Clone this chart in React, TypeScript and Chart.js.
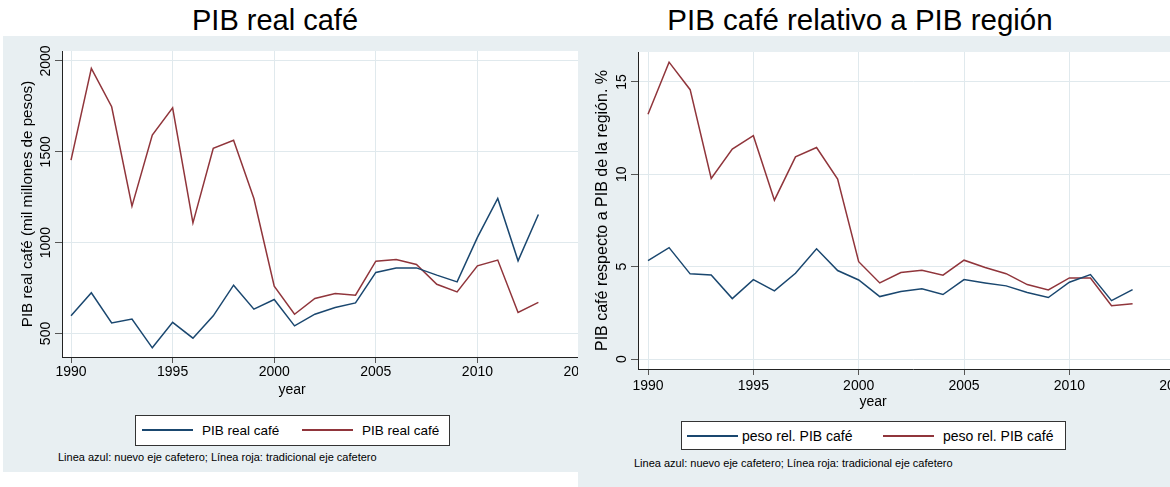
import React, { useEffect, useRef } from 'react';
import { Chart, registerables } from 'chart.js';

Chart.register(...registerables);

const FONT = "'Liberation Sans', Arial, Helvetica, sans-serif";

// ---------- data ----------
const years = [1990, 1991, 1992, 1993, 1994, 1995, 1996, 1997, 1998, 1999, 2000, 2001, 2002, 2003, 2004, 2005, 2006, 2007, 2008, 2009, 2010, 2011, 2012, 2013];

// PIB real café (mil millones de pesos)
const pibNuevo = [597, 724, 558, 579, 421, 561, 474, 597, 766, 634, 687, 542, 606, 643, 668, 836, 861, 861, 821, 784, 1029, 1243, 900, 1155];
const pibTradicional = [1454, 1959, 1748, 1201, 1592, 1742, 1109, 1519, 1564, 1243, 760, 606, 693, 720, 711, 898, 907, 880, 771, 729, 872, 904, 616, 671];

// peso relativo PIB café (%)
const pesoNuevo = [5.33, 6.03, 4.61, 4.55, 3.27, 4.30, 3.69, 4.64, 5.97, 4.79, 4.28, 3.38, 3.65, 3.80, 3.49, 4.30, 4.12, 3.96, 3.60, 3.33, 4.16, 4.57, 3.16, 3.76];
const pesoTradicional = [13.25, 16.07, 14.58, 9.77, 11.36, 12.09, 8.60, 10.94, 11.45, 9.74, 5.27, 4.12, 4.68, 4.80, 4.54, 5.35, 4.95, 4.62, 4.03, 3.74, 4.39, 4.39, 2.88, 2.99];

const xTicks = [1990, 1995, 2000, 2005, 2010, 2015];
const xTickLabels = ['1990', '1995', '2000', '2005', '2010', '2015'];
const yTicksPib = [500, 1000, 1500, 2000];
const yTickLabelsPib = ['500', '1000', '1500', '2000'];
const yTicksPeso = [0, 5, 10, 15];
const yTickLabelsPeso = ['0', '5', '10', '15'];

const titlePib = 'PIB real café';
const titlePeso = 'PIB café relativo a PIB región';
const yTitlePib = 'PIB real café (mil millones de pesos)';
const yTitlePeso = 'PIB café respecto a PIB de la región. %';
const xTitle = 'year';
const legendPib = ['PIB real café', 'PIB real café'];
const legendPeso = ['peso rel. PIB café', 'peso rel. PIB café'];
const note = 'Linea azul: nuevo eje cafetero; Línea roja: tradicional eje cafetero';

const BLUE = '#1a476f';
const RED = '#90353b';
const BG = '#e8eff2';
const GRID = '#e0e9ed';

// ---------- plugins ----------
const plotBg = {
  id: 'plotBg',
  beforeDraw(chart: any) {
    const { ctx, chartArea } = chart;
    ctx.save();
    ctx.fillStyle = '#ffffff';
    ctx.fillRect(chartArea.left, chartArea.top, chartArea.right - chartArea.left, chartArea.bottom - chartArea.top);
    ctx.restore();
  },
};

const rotatedYTicks = {
  id: 'rotatedYTicks',
  afterDraw(chart: any, _args: any, opts: any) {
    const scale = chart.scales.y;
    const ctx = chart.ctx;
    ctx.save();
    ctx.font = `${opts.size}px ${FONT}`;
    ctx.fillStyle = '#000';
    ctx.textAlign = 'center';
    ctx.textBaseline = 'alphabetic';
    scale.ticks.forEach((t: any, i: number) => {
      const y = scale.getPixelForValue(t.value);
      ctx.save();
      ctx.translate(chart.chartArea.left - opts.offset, y);
      ctx.rotate(-Math.PI / 2);
      ctx.fillText(opts.labels[i], 0, 0);
      ctx.restore();
    });
    ctx.restore();
  },
};

type Cfg = {
  width: number;
  height: number;
  padTop: number;
  padRight: number;
  yWidth: number;
  xMin: number;
  xMax: number;
  yMin: number;
  yMax: number;
  yTicks: number[];
  yTickLabels: string[];
  yTitle: string;
  yTitleSize: number;
  yTitlePad: number;
  blue: number[];
  red: number[];
  labels: string[];
  fontSize: number;
  tickLen: number;
  tickPad: number;
};

function LineChart({ cfg }: { cfg: Cfg }) {
  const ref = useRef<HTMLCanvasElement>(null);
  useEffect(() => {
    const chart = new Chart(ref.current as HTMLCanvasElement, {
      type: 'line',
      data: {
        datasets: [
          {
            label: cfg.labels[0],
            data: years.map((x, i) => ({ x, y: cfg.blue[i] })),
            borderColor: BLUE,
            borderWidth: 1.5,
            pointRadius: 0,
            tension: 0,
          },
          {
            label: cfg.labels[1],
            data: years.map((x, i) => ({ x, y: cfg.red[i] })),
            borderColor: RED,
            borderWidth: 1.5,
            pointRadius: 0,
            tension: 0,
          },
        ],
      },
      options: {
        animation: false,
        responsive: false,
        layout: { padding: { top: cfg.padTop, right: cfg.padRight, left: 0, bottom: 0 } },
        plugins: {
          legend: { display: false },
          tooltip: { enabled: false },
          title: { display: false },
          rotatedYTicks: { size: cfg.fontSize, offset: 12, labels: cfg.yTickLabels },
        } as any,
        scales: {
          x: {
            type: 'linear',
            min: cfg.xMin,
            max: cfg.xMax,
            afterBuildTicks: (s: any) => {
              s.ticks = xTicks.map((v) => ({ value: v }));
            },
            afterFit: (s: any) => {
              s.height = 40;
            },
            ticks: {
              font: { family: FONT, size: cfg.fontSize },
              color: '#000',
              padding: cfg.tickPad,
              maxRotation: 0,
              autoSkip: false,
              callback: (_v: any, i: number) => xTickLabels[i],
            },
            grid: { color: GRID, lineWidth: 1, tickLength: cfg.tickLen, tickColor: '#555', tickWidth: 1 },
            border: { display: true, color: '#222', width: 1 },
          },
          y: {
            type: 'linear',
            min: cfg.yMin,
            max: cfg.yMax,
            afterBuildTicks: (s: any) => {
              s.ticks = cfg.yTicks.map((v) => ({ value: v }));
            },
            afterFit: (s: any) => {
              s.width = cfg.yWidth;
            },
            ticks: { display: false },
            grid: { color: GRID, lineWidth: 1, tickLength: 7, tickColor: '#555', tickWidth: 1 },
            border: { display: true, color: '#222', width: 1 },
            title: {
              display: true,
              text: cfg.yTitle,
              color: '#000',
              font: { family: FONT, size: cfg.yTitleSize },
              padding: { top: cfg.yTitlePad, bottom: 0 },
            },
          },
        },
      },
      plugins: [plotBg, rotatedYTicks],
    } as any);
    return () => chart.destroy();
  }, []);
  return (
    <canvas
      ref={ref}
      width={cfg.width}
      height={cfg.height}
      style={{ position: 'absolute', left: 0, top: 0, width: cfg.width, height: cfg.height }}
    />
  );
}

function Legend({ left, top, width, height, labels, fs, items }: any) {
  return (
    <div
      style={{
        position: 'absolute',
        left,
        top,
        width,
        height,
        boxSizing: 'border-box',
        border: '1px solid #333',
        background: '#fff',
      }}
    >
      {[BLUE, RED].map((c, i) => (
        <React.Fragment key={i}>
          <div style={{ position: 'absolute', left: items[i][0], top: items[i][2] - 1, width: 51, height: 2, background: c }} />
          <div
            style={{
              position: 'absolute',
              left: items[i][1],
              top: items[i][3],
              fontSize: fs,
              lineHeight: fs + 'px',
              whiteSpace: 'nowrap',
              color: '#000',
            }}
          >
            {labels[i]}
          </div>
        </React.Fragment>
      ))}
    </div>
  );
}

function Text({ cx, left, top, fs, children }: any) {
  const style: any = {
    position: 'absolute',
    top,
    fontSize: fs,
    lineHeight: fs + 'px',
    whiteSpace: 'nowrap',
    color: '#000',
  };
  if (cx !== undefined) {
    style.left = cx - 300;
    style.width = 600;
    style.textAlign = 'center';
  } else {
    style.left = left;
  }
  return <div style={style}>{children}</div>;
}

const leftCfg: Cfg = {
  width: 640,
  height: 361,
  padTop: 15,
  padRight: 40,
  yWidth: 59,
  xMin: 1989.556,
  xMax: 2016.18,
  yMin: 370.5,
  yMax: 2055,
  yTicks: yTicksPib,
  yTickLabels: yTickLabelsPib,
  yTitle: yTitlePib,
  yTitleSize: 15.2,
  yTitlePad: 15.4,
  blue: pibNuevo,
  red: pibTradicional,
  labels: legendPib,
  fontSize: 14,
  tickLen: 6,
  tickPad: 1,
};

const rightCfg: Cfg = {
  width: 640,
  height: 373,
  padTop: 16,
  padRight: 30,
  yWidth: 60,
  xMin: 1989.525,
  xMax: 2015.63,
  yMin: -0.54,
  yMax: 16.62,
  yTicks: yTicksPeso,
  yTickLabels: yTickLabelsPeso,
  yTitle: yTitlePeso,
  yTitleSize: 16,
  yTitlePad: 15,
  blue: pesoNuevo,
  red: pesoTradicional,
  labels: legendPeso,
  fontSize: 14,
  tickLen: 6,
  tickPad: 2.4,
};

export default function App() {
  return (
    <div
      style={{
        position: 'absolute',
        left: 0,
        top: 0,
        width: 1170,
        height: 487,
        overflow: 'hidden',
        background: '#fff',
        fontFamily: FONT,
      }}
    >
      <Text cx={275} top={5.5} fs={29}>{titlePib}</Text>
      <Text cx={860} top={5} fs={29.5}>{titlePeso}</Text>

      <div style={{ position: 'absolute', left: 3, top: 36, width: 575, height: 436, background: BG, overflow: 'hidden' }}>
        <LineChart cfg={leftCfg} />
      </div>
      <div style={{ position: 'absolute', left: 578, top: 36, width: 592, height: 451, background: BG, overflow: 'hidden' }}>
        <LineChart cfg={rightCfg} />
      </div>

      <Text cx={292} top={381.5} fs={14}>{xTitle}</Text>
      <Text cx={873} top={393.6} fs={14}>{xTitle}</Text>

      <Legend
        left={135}
        top={415}
        width={315}
        height={31}
        labels={legendPib}
        fs={13.5}
        items={[
          [6, 66, 14, 7.6],
          [166, 226, 14, 7.6],
        ]}
      />
      <Legend
        left={681}
        top={421}
        width={385}
        height={29}
        labels={legendPeso}
        fs={14}
        items={[
          [5, 60, 14, 6.6],
          [201, 261, 14, 6.6],
        ]}
      />

      <Text left={58} top={451.7} fs={11}>{note}</Text>
      <Text left={634} top={457.7} fs={11}>{note}</Text>
    </div>
  );
}
